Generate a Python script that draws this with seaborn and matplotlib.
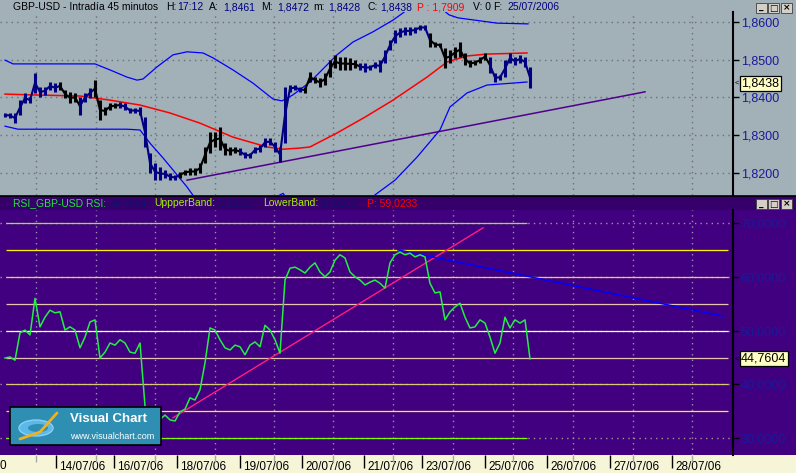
import numpy as np
import pandas as pd
import seaborn as sns
import matplotlib.pyplot as plt
import matplotlib.transforms as mtransforms
from matplotlib.patches import Rectangle, Ellipse
from matplotlib.ticker import FuncFormatter

plt.rcParams['font.family'] = ['Liberation Sans', 'DejaVu Sans']

# ---- GBP-USD 45 min, one sample about every 2.5 bars ----
price_hi = [1.8359, 1.8359, 1.8359, 1.8393, 1.8412, 1.8401, 1.8465, 1.8428, 1.8428, 1.8441,
            1.8438, 1.8441, 1.8420, 1.8414, 1.8412, 1.8401, 1.8412, 1.8425, 1.8446, 1.8393,
            1.8375, 1.8385, 1.8385, 1.8388, 1.8385, 1.8372, 1.8372, 1.8375, 1.8348, 1.8253,
            1.8226, 1.8216, 1.8208, 1.8200, 1.8195, 1.8203, 1.8208, 1.8213, 1.8213, 1.8226,
            1.8269, 1.8309, 1.8309, 1.8322, 1.8279, 1.8269, 1.8269, 1.8266, 1.8256, 1.8253,
            1.8269, 1.8274, 1.8293, 1.8293, 1.8282, 1.8269, 1.8428, 1.8433, 1.8433, 1.8428,
            1.8428, 1.8468, 1.8454, 1.8452, 1.8465, 1.8499, 1.8513, 1.8507, 1.8507, 1.8505,
            1.8499, 1.8491, 1.8491, 1.8486, 1.8494, 1.8499, 1.8526, 1.8552, 1.8579, 1.8584,
            1.8587, 1.8587, 1.8587, 1.8592, 1.8592, 1.8571, 1.8547, 1.8544, 1.8531, 1.8526,
            1.8534, 1.8547, 1.8518, 1.8499, 1.8499, 1.8507, 1.8518, 1.8507, 1.8465, 1.8460,
            1.8499, 1.8518, 1.8507, 1.8513, 1.8507, 1.8481]
price_lo = [1.8348, 1.8346, 1.8332, 1.8354, 1.8385, 1.8385, 1.8412, 1.8401, 1.8407, 1.8420,
            1.8414, 1.8420, 1.8399, 1.8385, 1.8388, 1.8354, 1.8388, 1.8399, 1.8401, 1.8340,
            1.8354, 1.8367, 1.8372, 1.8372, 1.8367, 1.8359, 1.8359, 1.8354, 1.8269, 1.8200,
            1.8181, 1.8181, 1.8187, 1.8181, 1.8181, 1.8187, 1.8195, 1.8195, 1.8195, 1.8200,
            1.8226, 1.8253, 1.8269, 1.8261, 1.8248, 1.8248, 1.8253, 1.8248, 1.8240, 1.8240,
            1.8253, 1.8256, 1.8269, 1.8274, 1.8256, 1.8229, 1.8279, 1.8414, 1.8420, 1.8414,
            1.8412, 1.8441, 1.8438, 1.8428, 1.8433, 1.8454, 1.8478, 1.8473, 1.8473, 1.8473,
            1.8478, 1.8473, 1.8468, 1.8473, 1.8478, 1.8468, 1.8491, 1.8526, 1.8544, 1.8560,
            1.8566, 1.8566, 1.8571, 1.8579, 1.8579, 1.8534, 1.8534, 1.8534, 1.8478, 1.8491,
            1.8505, 1.8507, 1.8486, 1.8481, 1.8486, 1.8491, 1.8499, 1.8465, 1.8441, 1.8446,
            1.8454, 1.8491, 1.8486, 1.8491, 1.8481, 1.8425]
# stretches drawn in black (the rest navy)
black_spans = [(11, 14), (18, 22), (35, 46), (60, 70), (85, 96)]

# bollinger bands and moving average (x in sample units)
upper_x = [0, 1.6, 18, 21, 24.4, 26.4, 27.6, 30.4, 33.6, 36.4, 39.6, 41.6, 45.6, 49.6,
           53.6, 55.4, 57.6, 61, 66.4, 69.6, 73.6, 77.6, 79.6, 84, 88.8, 90.6, 98.4, 104.6]
upper_y = [1.8499, 1.8489, 1.8489, 1.8473, 1.8454, 1.8446, 1.8449, 1.8481, 1.8513, 1.8521,
           1.8518, 1.8505, 1.8473, 1.8438, 1.8396, 1.8391, 1.8407, 1.8441, 1.8513, 1.8547,
           1.8574, 1.8605, 1.8624, 1.8672, 1.8619, 1.8611, 1.8597, 1.8595]
lower_x = [0, 2.6, 18.4, 24.4, 27, 29, 31.6, 33.6, 36.4, 39, 46, 53, 55.6, 59, 67, 74,
           78, 82.4, 87, 89, 92.4, 96.4, 104.4]
lower_y = [1.8324, 1.8316, 1.8316, 1.8316, 1.8314, 1.8279, 1.8240, 1.8208, 1.8163, 1.8115,
           1.8089, 1.8128, 1.8146, 1.8089, 1.8062, 1.8142, 1.8181, 1.8242, 1.8314, 1.8375,
           1.8412, 1.8433, 1.8441]
ma_x = [0, 5, 15, 21, 27, 33, 39, 45.6, 52.4, 55.6, 59, 61, 66.4, 72, 77.6, 84.4, 88.4,
        92.4, 96.4, 104.4]
ma_y = [1.8409, 1.8407, 1.8404, 1.8393, 1.8380, 1.8359, 1.8332, 1.8295, 1.8269, 1.8263,
        1.8266, 1.8269, 1.8306, 1.8348, 1.8393, 1.8454, 1.8494, 1.8510, 1.8515, 1.8518]
trend_x = [36.4, 128]
trend_y = [1.8181, 1.8415]

# RSI
rsi = [44.9, 45.1, 44.5, 49.6, 50.1, 49.2, 56.0, 50.7, 52.5, 53.8,
       53.3, 53.5, 50.1, 50.7, 50.1, 46.8, 48.8, 51.6, 52.0, 44.9,
       46.0, 47.7, 47.3, 48.3, 47.7, 46.0, 45.8, 47.7, 36.0, 33.0,
       32.0, 33.5, 34.3, 33.4, 33.2, 34.9, 35.4, 37.5, 37.1, 39.0,
       44.0, 50.5, 50.1, 48.3, 46.8, 46.4, 47.3, 47.0, 45.5, 47.3,
       47.9, 47.0, 51.0, 50.1, 48.3, 45.8, 59.4, 61.6, 61.8, 61.3,
       60.7, 61.8, 62.6, 60.9, 60.0, 60.9, 63.1, 64.1, 63.5, 60.9,
       60.0, 59.4, 58.5, 59.0, 59.4, 58.8, 57.9, 62.6, 64.1, 64.6,
       64.1, 64.4, 63.7, 64.1, 63.7, 58.8, 57.0, 57.2, 52.0, 53.5,
       54.4, 55.1, 52.5, 50.5, 50.7, 52.0, 51.4, 48.8, 45.8, 47.7,
       52.5, 50.5, 52.0, 51.4, 52.0, 44.7604]
pink_x = [33.6, 95.6]
pink_y = [33.8, 69.1]
blue_x = [78.6, 143.6]
blue_y = [65.0, 52.7]
levels = [70, 65, 60, 55, 50, 45, 40, 35, 30]
level_colors = ['#7CFC00', '#FFF200', '#E6D24A', '#E6C4AE', '#FFFFFF',
                '#E6C4AE', '#D8C878', '#FFF200', '#7CFC00']
level_end = [104.4, 144.6, 144.6, 144.6, 144.6, 144.6, 144.6, 144.6, 104.4]

grid_x = [6.2, 18.2, 30, 42, 53.8, 65.6, 77.6, 89.6, 101.6, 113.6, 125.6, 137.4]
date_x = [10.2, 21.8, 34.4, 47, 59.4, 71.8, 83.4, 96, 108.4, 121, 133.4]
date_labels = ['14/07/06', '16/07/06', '18/07/06', '19/07/06', '20/07/06', '21/07/06',
               '23/07/06', '25/07/06', '26/07/06', '27/07/06', '28/07/06']
price_ticks = [1.82, 1.83, 1.84, 1.85, 1.86]
rsi_ticks = [30, 40, 50, 60, 70]
last_close = 1.8438
last_rsi = 44.7604

GRAY = '#A2B0B8'
PURPLE = '#41007F'
HEADER = '#35006A'
CREAM = '#F7F5D8'
NAVY = '#000080'
LABEL = '#1A1A9A'

W, H = 796, 473
fig = plt.figure(figsize=(W / 100, H / 100), dpi=100)
fig.patch.set_facecolor(GRAY)

# background pieces in pixel coordinates
bg = fig.add_axes([0, 0, 1, 1], zorder=-5)
bg.set_xlim(0, W)
bg.set_ylim(H, 0)
bg.axis('off')
bg.add_patch(Rectangle((0, 196), W, 14, fc=HEADER, ec='none'))
bg.add_patch(Rectangle((0, 210), W, 245, fc=PURPLE, ec='none'))
bg.add_patch(Rectangle((0, 455), W, 18, fc=CREAM, ec='none'))

ax1 = fig.add_axes([0, 1 - 195 / H, 733 / W, 183 / H])
ax2 = fig.add_axes([0, 1 - 455 / H, 733 / W, 245 / H])
ax1.set_facecolor(GRAY)
ax2.set_facecolor(PURPLE)

comma = FuncFormatter(lambda v, p: f"{v:.4f}".replace('.', ','))

# ---- price panel ----
bars = pd.DataFrame({'x': np.arange(len(price_hi)), 'hi': price_hi, 'lo': price_lo})
bars['mid'] = (bars['hi'] + bars['lo']) / 2
bars['black'] = False
for a, b in black_spans:
    bars.loc[a:b, 'black'] = True

sns.lineplot(x=upper_x, y=upper_y, ax=ax1, color='#0000FF', lw=0.9, zorder=3)
sns.lineplot(x=lower_x, y=lower_y, ax=ax1, color='#0000FF', lw=0.9, zorder=3)
sns.lineplot(x=ma_x, y=ma_y, ax=ax1, color='#FF0000', lw=1.1, zorder=3)
sns.lineplot(x=trend_x, y=trend_y, ax=ax1, color='#50008C', lw=1.1, zorder=3)

runs = (bars['black'] != bars['black'].shift()).cumsum()
for _, d in bars.groupby(runs):
    end = min(d.index.max() + 1, len(bars) - 1)
    seg = bars.loc[d.index.min():end]
    col = 'black' if d['black'].iloc[0] else NAVY
    ax1.vlines(d['x'], d['lo'], d['hi'], color=col, lw=2.2, zorder=4)
    sns.lineplot(x=seg['x'].values, y=seg['mid'].values, ax=ax1, color=col, lw=1.5, zorder=4)

ax1.set_xlim(-1, 145.6)
ax1.set_ylim(1.81417, 1.86265)
ax1.set_xticks([])
ax1.set_xticks(grid_x, minor=True)
ax1.set_yticks(price_ticks)
ax1.grid(True, which='minor', axis='x', color='#6A7078', ls=(0, (1, 3)), lw=1)
ax1.grid(True, which='major', axis='y', color='#6A7078', ls=(0, (1, 3)), lw=1)
ax1.tick_params(axis='x', which='both', length=0)

# ---- RSI panel ----
xi = np.arange(len(rsi))
ax2.hlines(levels, 0.2, level_end, colors=level_colors, lw=0.9, zorder=2)
sns.lineplot(x=pink_x, y=pink_y, ax=ax2, color='#FF1E82', lw=1.0, zorder=3)
sns.lineplot(x=blue_x, y=blue_y, ax=ax2, color='#0000FF', lw=1.1, zorder=3)
sns.lineplot(x=xi, y=rsi, ax=ax2, color='#22EE44', lw=1.1, zorder=4)

ax2.set_xlim(-1, 145.6)
ax2.set_ylim(26.88, 72.42)
ax2.set_yticks(rsi_ticks)
ax2.set_xticks(date_x)
ax2.set_xticklabels(date_labels, fontsize=8.5, ha='left', va='bottom', color='black')
ax2.set_xticks(grid_x, minor=True)
ax2.grid(True, which='minor', axis='x', color='#9C90A8', ls=(0, (1, 3)), lw=1)
ax2.grid(True, which='major', axis='y', color='#A09888', ls=(0, (1, 3)), lw=1)
ax2.tick_params(axis='x', which='major', length=9, width=1, color='black', pad=0,
                bottom=True, labelbottom=True, direction='out')
ax2.tick_params(axis='x', which='minor', length=5, width=1, color='#A8A8A8', bottom=True)
# labels sit right of their tick, bottom aligned to the picture's lower edge
shift = mtransforms.ScaledTranslation(3 / 100, -17.5 / 100, fig.dpi_scale_trans)
for lbl in ax2.get_xticklabels():
    lbl.set_transform(ax2.get_xaxis_transform() + shift)
    lbl.set_y(0)

for ax in (ax1, ax2):
    ax.set_xlabel('')
    ax.set_ylabel('')
    ax.yaxis.tick_right()
    ax.yaxis.set_major_formatter(comma)
    ax.tick_params(axis='y', which='major', length=4, width=1, color='black', pad=1.5,
                   labelsize=9, labelcolor=LABEL, direction='out', right=True)
    for s in ['top', 'left', 'bottom']:
        ax.spines[s].set_visible(False)
    ax.spines['right'].set_color('black')
    ax.spines['right'].set_linewidth(1.5)

# current value boxes on the scales
for ax, val in [(ax1, last_close), (ax2, last_rsi)]:
    tr = mtransforms.blended_transform_factory(ax.transAxes, ax.transData)
    ax.text(1 + 8 / 733, val, comma(val), transform=tr, ha='left', va='center',
            fontsize=9, color='black', zorder=20,
            bbox=dict(boxstyle='square,pad=0.12', fc='#FFFFC4', ec='black', lw=0.9))
    ax.text(1 + 2 / 733, val, '<', transform=tr, ha='left', va='center',
            fontsize=5.5, color='black', zorder=20)

# ---- foreground: titles, buttons, logo ----
fg = fig.add_axes([0, 0, 1, 1], zorder=10)
fg.patch.set_alpha(0)
fg.set_xlim(0, W)
fg.set_ylim(H, 0)
fg.axis('off')

fg.plot([0, W], [195.8, 195.8], color='black', lw=1.2)

title_parts = [('GBP-USD - Intradía 45 minutos', 13, 'black'), ('H:', 166, 'black'),
               ('17:12', 177, NAVY), ('A:', 209, 'black'), ('1,8461', 223, NAVY),
               ('M:', 261, 'black'), ('1,8472', 277, NAVY), ('m:', 313, 'black'),
               ('1,8428', 328, NAVY), ('C:', 367, 'black'), ('1,8438', 380, NAVY),
               ('P : 1,7909', 417, '#FF0000'), ('V: 0', 473, 'black'), ('F:', 493, 'black'),
               ('25/07/2006', 507, NAVY)]
for s, x, c in title_parts:
    fg.text(x, 7.5, s, color=c, fontsize=7.5, ha='left', va='center')

rsi_parts = [('RSI_GBP-USD RSI:', 13, '#1EE83C'), ('44,7604', 110, '#101070'),
             ('UppperBand:', 154, '#A8F000'), ('70,0000', 215, '#101070'),
             ('LowerBand:', 263, '#A8F000'), ('30,0000', 320, '#101070'),
             ('P: 59,0233', 367, '#FF0000')]
for s, x, c in rsi_parts:
    fg.text(x, 203, s, color=c, fontsize=7.5, ha='left', va='center')

for y0 in (3, 199):
    for x0, g in [(756, '_'), (768, '□'), (781, '×')]:
        fg.add_patch(Rectangle((x0, y0), 11, 10, fc='#D4D0C8', ec='#404040', lw=0.6))
        fg.text(x0 + 5.5, y0 + 5, g, fontsize=6.5, ha='center', va='center',
                color='black', family=['DejaVu Sans'], fontweight='bold')

fg.text(0, 472, '0', fontsize=8.5, ha='left', va='bottom', color='black')

# Visual Chart logo
fg.add_patch(Rectangle((10, 407), 151, 38, fc='#2E8FB2', ec='black', lw=1.2))
fg.add_patch(Ellipse((36, 428), 34, 16, fc='#5AB8EA', ec='#8AD0F4', lw=1))
fg.add_patch(Ellipse((38, 428), 20, 8, fc='#2E8FB2', ec='none'))
fg.plot([20, 40, 57], [439, 432, 413], color='#F0B020', lw=2, solid_capstyle='round')
fg.text(70, 419, 'Visual Chart', color='white', fontsize=9.5, fontweight='bold',
        ha='left', va='center')
fg.text(70, 436, 'www.visualchart.com', color='white', fontsize=6.5, ha='left', va='center')

fig.savefig('out.png', dpi=100, facecolor=fig.get_facecolor())
